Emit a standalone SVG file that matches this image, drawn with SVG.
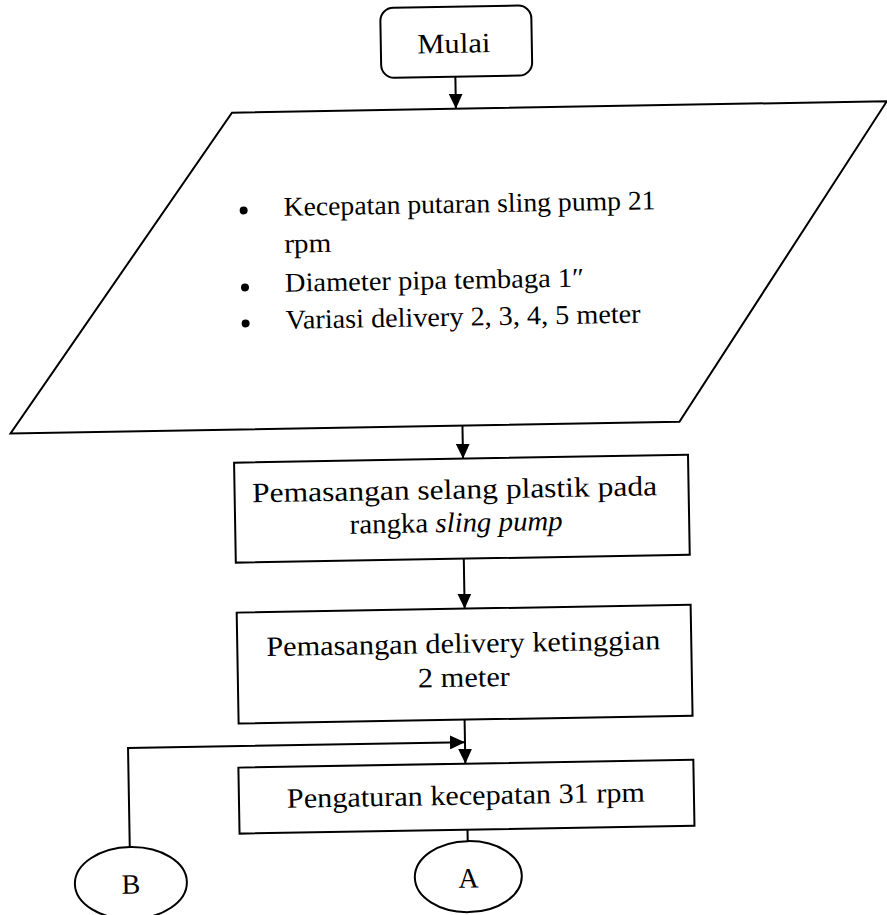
<svg xmlns="http://www.w3.org/2000/svg" width="887" height="915" viewBox="0 0 887 915">
<style>
.shape{fill:#fff;stroke:#000;stroke-width:2}
.conn{fill:none;stroke:#000;stroke-width:2}
.t{font-family:"Liberation Serif","Times New Roman",serif;fill:#000}
.box{font-size:28px;text-anchor:middle}
.para{font-size:27px}
.bullet{fill:#000}
</style>
<defs>
<marker id="ah" markerUnits="userSpaceOnUse" markerWidth="16" markerHeight="14" refX="15" refY="7" orient="auto">
<path d="M0,0 L15,7 L0,14 z" fill="#000"/>
</marker>
</defs>
<rect x="0" y="0" width="887" height="915" fill="#fff"/>
<g transform="rotate(-1 443 457)">
<g id="connectors">
<line class="conn" x1="462" y1="77" x2="462" y2="109" marker-end="url(#ah)"/>
<line class="conn" x1="463" y1="426" x2="463" y2="459" marker-end="url(#ah)"/>
<line class="conn" x1="462" y1="559" x2="462" y2="609" marker-end="url(#ah)"/>
<line class="conn" x1="460" y1="720" x2="460" y2="764" marker-end="url(#ah)"/>
<polyline class="conn" points="123,841.5 123,742.5 460,742.5" marker-end="url(#ah)"/>
<line class="conn" x1="461" y1="830" x2="461" y2="841.5"/>
</g>
<g id="mulai">
<rect class="shape" x="388" y="7" width="151" height="70" rx="13" ry="13"/>
<text class="t box" x="461" y="53" textLength="73" lengthAdjust="spacingAndGlyphs">Mulai</text>
</g>
<g id="input">
<polygon class="shape" points="238,109 893,109 680,426 11,426"/>
<circle class="bullet" cx="248" cy="207" r="4"/>
<circle class="bullet" cx="248" cy="284" r="4"/>
<circle class="bullet" cx="248" cy="320" r="4"/>
<text class="t para" x="288" y="213" textLength="372" lengthAdjust="spacingAndGlyphs">Kecepatan putaran sling pump 21</text>
<text class="t para" x="288" y="250" textLength="47" lengthAdjust="spacingAndGlyphs">rpm</text>
<text class="t para" x="288" y="289" textLength="299" lengthAdjust="spacingAndGlyphs">Diameter pipa tembaga 1″</text>
<text class="t para" x="288" y="326" textLength="355" lengthAdjust="spacingAndGlyphs">Variasi delivery 2, 3, 4, 5 meter</text>
</g>
<g id="pemasangan-selang">
<rect class="shape" x="234" y="459" width="454" height="100"/>
<text class="t box" x="454" y="499" textLength="405" lengthAdjust="spacingAndGlyphs">Pemasangan selang plastik pada</text>
<text class="t box" x="455" y="532" textLength="213" lengthAdjust="spacingAndGlyphs">rangka <tspan font-style="italic">sling pump</tspan></text>
</g>
<g id="pemasangan-delivery">
<rect class="shape" x="234" y="609" width="454" height="111"/>
<text class="t box" x="460" y="653" textLength="394" lengthAdjust="spacingAndGlyphs">Pemasangan delivery ketinggian</text>
<text class="t box" x="460" y="687" textLength="92" lengthAdjust="spacingAndGlyphs">2 meter</text>
</g>
<g id="pengaturan">
<rect class="shape" x="233" y="764" width="455" height="66"/>
<text class="t box" x="460" y="805" textLength="358" lengthAdjust="spacingAndGlyphs">Pengaturan kecepatan 31 rpm</text>
</g>
<g id="connector-b">
<ellipse class="shape" cx="123.5" cy="877.5" rx="56" ry="36"/>
<text class="t box" x="123.5" y="888">B</text>
</g>
<g id="connector-a">
<ellipse class="shape" cx="461" cy="877" rx="53.5" ry="35.5"/>
<text class="t box" x="461" y="888">A</text>
</g>
</g>
</svg>
